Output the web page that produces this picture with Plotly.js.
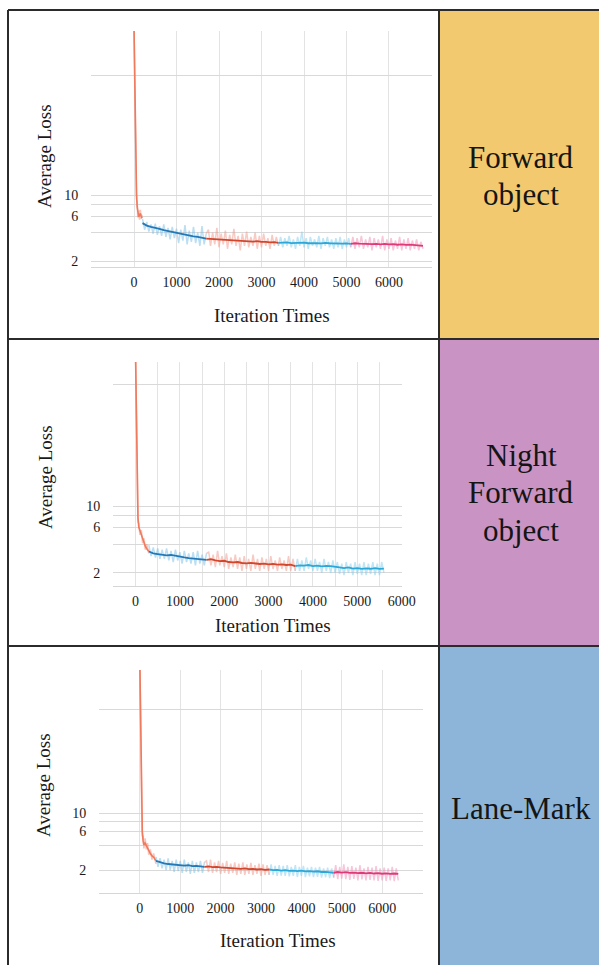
<!DOCTYPE html>
<html><head><meta charset="utf-8">
<script src="https://cdn.plot.ly/plotly-3.0.1.min.js"></script>
<style>html,body{margin:0;padding:0;background:#fff;overflow:hidden}#chart{width:599px;height:965px}</style>
</head><body><div id="chart"></div>
<script>
// ---------- Data: Forward object ----------
const FO_HEAD_X   = [0,10,20,30,45,60,75,90,110,130,150,170,190];
const FO_HEAD_Y   = [600,250,90,35,16,10,7.5,6.4,5.9,6.1,6.4,6.0,5.7];
const FO_HEAD_RAW = [600,230,110,30,19,9,8.4,5.8,6.9,5.5,7.0,5.6,6.2];
const FO_SMOOTH_START = 200;
const FO_SMOOTH = [5.05,4.75,4.6,4.45,4.38,4.25,4.15,4.08,3.98,3.9,3.84,3.72,3.66,3.6,3.5,3.46,3.44,3.38,3.4,3.33,3.36,3.3,3.31,3.27,3.29,3.24,3.22,3.25,3.19,3.2,3.15,3.17,3.12,3.13,3.15,3.1,3.13,3.11,3.14,3.09,3.12,3.1,3.08,3.12,3.09,3.07,3.1,3.06,3.08,3.05,3.09,3.06,3.04,3.07,3.03,3.05,3.01,3.04,3.0,3.02,2.98,3.01,2.97,2.99,2.95,2.96,2.9];
const FO_RAW_START = 200;
const FO_RAW = [
 5.6,4.3,5.2,4.1,4.9,3.9,5.0,3.8,4.7,3.7,4.9,3.6,4.5,3.4,4.6,3.5,4.4,3.1,4.3,3.3,4.8,3.0,4.2,3.2,4.6,3.1,4.0,2.9,4.7,3.0,3.9,
 4.3,2.9,4.0,3.0,4.5,2.8,3.9,3.0,4.2,2.7,3.8,3.0,4.4,2.9,3.7,2.6,3.9,2.9,4.1,2.8,3.6,2.9,4.0,2.7,3.7,2.8,3.9,2.9,3.5,2.7,3.8,2.9,3.6,2.9,
 3.6,2.8,3.5,2.9,3.7,2.8,3.4,2.7,3.6,2.9,4.1,2.8,3.5,2.7,3.6,2.9,3.4,2.8,3.7,2.7,3.5,2.9,3.6,2.8,3.4,2.7,3.5,2.8,3.6,2.7,3.4,2.8,3.5,2.8,
 3.6,2.7,3.5,2.8,3.7,2.7,3.4,2.8,3.6,2.6,3.5,2.8,3.4,2.7,3.7,2.6,3.4,2.7,3.5,2.6,3.3,2.7,3.6,2.6,3.4,2.7,3.5,2.6,3.3,2.7,3.4,2.6,3.2,2.7];
const FO_BOUNDS = [200,1700,3400,5100,6800];
const FO_COLORS = ['blue','red','cyan','pink'];

// ---------- Data: Night Forward object ----------
const NFO_HEAD_X   = [0,10,20,30,40,55,75,100,130,160,190,220,250,300];
const NFO_HEAD_Y   = [400,170,55,20,11,7.5,6.0,5.5,5.0,4.5,4.1,3.8,3.6,3.35];
const NFO_HEAD_RAW = [400,150,70,18,13,6.8,6.6,5.0,5.6,4.1,4.6,3.5,4.0,3.2];
const NFO_SMOOTH_START = 300;
const NFO_SMOOTH = [3.35,3.2,3.15,3.12,3.05,3.08,3.0,2.96,2.9,2.86,2.82,2.8,2.76,2.74,2.78,2.7,2.66,2.68,2.6,2.58,2.6,2.54,2.52,2.55,2.5,2.48,2.5,2.46,2.48,2.44,2.46,2.42,2.44,2.36,2.4,2.38,2.42,2.36,2.38,2.34,2.37,2.35,2.3,2.28,2.25,2.28,2.22,2.24,2.2,2.23,2.21,2.24,2.2,2.22];
const NFO_RAW_START = 300;
const NFO_RAW = [
 3.9,3.0,3.7,2.9,3.6,2.8,3.5,2.8,3.6,2.7,3.4,2.6,3.5,2.7,3.3,2.5,3.4,2.6,3.2,2.5,3.3,2.4,3.4,2.5,3.1,2.4,3.2,
 3.3,2.4,3.1,2.3,3.4,2.4,3.0,2.3,3.2,2.2,2.9,2.3,3.1,2.2,2.9,2.1,3.0,2.2,2.8,2.1,3.1,2.2,2.8,2.1,2.9,2.2,2.8,2.1,3.0,2.2,2.7,2.1,2.9,2.2,2.7,2.1,3.0,2.1,2.8,2.1,
 2.8,2.1,2.7,2.1,2.9,2.2,2.7,2.1,2.8,2.1,2.6,2.0,2.8,2.1,2.6,2.0,2.7,2.0,2.6,1.95,2.5,1.9,2.6,2.0,2.5,1.9,2.6,1.95,2.5,1.9,2.6,1.9,2.5,1.95,2.6,1.9,2.5,1.9,2.6,2.0];
const NFO_BOUNDS = [300,1600,3600,5600];
const NFO_COLORS = ['blue','red','cyan'];

// ---------- Data: Lane-Mark ----------
const LM_HEAD_X   = [0,10,20,30,45,60,80,100,130,160,190,220,260,300,340,400];
const LM_HEAD_Y   = [700,250,70,22,10,6,4.6,4.1,4.3,4.0,3.8,3.5,3.2,3.0,2.9,2.6];
const LM_HEAD_RAW = [700,220,90,19,12,5.2,5.3,3.7,4.9,3.6,4.3,3.1,3.6,2.7,3.2,2.4];
const LM_SMOOTH_START = 400;
const LM_SMOOTH = [2.6,2.48,2.42,2.38,2.35,2.32,2.3,2.28,2.3,2.24,2.26,2.22,2.2,2.22,2.18,2.2,2.16,2.14,2.16,2.1,2.12,2.08,2.1,2.06,2.08,2.04,2.06,2.02,2.04,2.0,2.02,1.98,2.0,1.96,1.98,1.95,1.97,1.93,1.95,1.92,1.94,1.9,1.91,1.88,1.86,1.9,1.87,1.89,1.85,1.87,1.84,1.86,1.83,1.85,1.82,1.84,1.81,1.83,1.8,1.82,1.8];
const LM_RAW_START = 400;
const LM_RAW = [
 2.9,2.2,2.8,2.1,2.7,2.0,2.8,2.0,2.6,1.9,2.7,1.95,2.6,1.85,2.7,1.9,2.5,1.8,2.6,1.85,2.5,1.9,2.6,1.85,2.5,
 2.6,1.9,2.7,1.85,2.5,1.9,2.6,1.8,2.45,1.85,2.6,1.8,2.4,1.85,2.5,1.75,2.4,1.8,2.5,1.75,2.35,1.8,2.45,1.75,2.3,1.8,2.4,1.7,2.35,1.75,2.3,1.75,
 2.35,1.75,2.25,1.7,2.3,1.72,2.25,1.7,2.3,1.68,2.2,1.7,2.3,1.65,2.2,1.7,2.25,1.65,2.15,1.68,2.2,1.64,2.15,1.66,2.2,1.62,2.1,1.64,2.15,1.6,2.1,1.62,
 2.3,1.55,2.2,1.58,2.35,1.55,2.2,1.52,2.25,1.56,2.15,1.5,2.3,1.54,2.1,1.5,2.2,1.52,2.15,1.5,2.25,1.48,2.1,1.5,2.15,1.48,2.1,1.5,2.2,1.47,2.1,1.5];
const LM_BOUNDS = [400,1600,3200,4800,6400];
const LM_COLORS = ['blue','red','cyan','pink'];

// ---------- Ticks ----------
const X_TICKS_7K  = [-1000,0,1000,2000,3000,4000,5000,6000,7000];
const X_LABELS_7K = ['','0','1000','2000','3000','4000','5000','6000',''];
const X_TICKS_6K  = [-500,0,500,1000,1500,2000,2500,3000,3500,4000,4500,5000,5500,6000];
const X_LABELS_6K = ['','0','','1000','','2000','','3000','','4000','','5000','','6000'];
const Y_TICKS  = [2,4,6,8,10,185];
const Y_LABELS = ['2','','6','','10',''];
const ROW_LABELS = [['Forward','object'],['Night','Forward','object'],['Lane-Mark']];

// ---------- Styling ----------
const PAL = {
  orange:{line:'#F07A5E', raw:'rgba(244,140,118,0.5)'},
  blue:  {line:'#2378B5', raw:'rgba(120,190,232,0.5)'},
  red:   {line:'#D2462C', raw:'rgba(242,150,138,0.5)'},
  cyan:  {line:'#2BA8D8', raw:'rgba(130,206,238,0.5)'},
  pink:  {line:'#DF3A78', raw:'rgba(242,140,182,0.5)'}
};
const W=599,H=965;
const px=x=>x/W, py=y=>1-y/H;
const SERIF='"Liberation Serif","Times New Roman",serif';

const charts=[
 {hx:FO_HEAD_X,hy:FO_HEAD_Y,hr:FO_HEAD_RAW,ss:FO_SMOOTH_START,sm:FO_SMOOTH,rs:FO_RAW_START,raw:FO_RAW,b:FO_BOUNDS,c:FO_COLORS,
  box:[91,31,432,267],xr:[-1012,7012],yr:[1.73,550],xt:X_TICKS_7K,xl:X_LABELS_7K,ytitle:[45,156],xtitle:[272,315]},
 {hx:NFO_HEAD_X,hy:NFO_HEAD_Y,hr:NFO_HEAD_RAW,ss:NFO_SMOOTH_START,sm:NFO_SMOOTH,rs:NFO_RAW_START,raw:NFO_RAW,b:NFO_BOUNDS,c:NFO_COLORS,
  box:[113,362,402,586],xr:[-508,6008],yr:[1.46,320],xt:X_TICKS_6K,xl:X_LABELS_6K,ytitle:[45,477],xtitle:[273,625]},
 {hx:LM_HEAD_X,hy:LM_HEAD_Y,hr:LM_HEAD_RAW,ss:LM_SMOOTH_START,sm:LM_SMOOTH,rs:LM_RAW_START,raw:LM_RAW,b:LM_BOUNDS,c:LM_COLORS,
  box:[99,670,423,893],xr:[-1012,7012],yr:[1.05,570],xt:X_TICKS_7K,xl:X_LABELS_7K,ytitle:[43,785],xtitle:[278,940]}
];

function slice(start,step,vals,lo,hi){
  const xs=[],ys=[];
  vals.forEach((v,i)=>{const x=start+i*step; if(x>=lo&&x<=hi){xs.push(x);ys.push(v);}});
  return {xs,ys};
}

const data=[]; const layout={width:W,height:H,margin:{l:0,r:0,t:0,b:0},showlegend:false,
  paper_bgcolor:'#fff',plot_bgcolor:'rgba(0,0,0,0)',shapes:[],annotations:[]};

charts.forEach((ch,k)=>{
  const xa='x'+(k?k+1:''), ya='y'+(k?k+1:'');
  data.push({x:ch.hx,y:ch.hr,xaxis:xa,yaxis:ya,mode:'lines',line:{color:PAL.orange.raw,width:1.6},hoverinfo:'skip'});
  data.push({x:ch.hx,y:ch.hy,xaxis:xa,yaxis:ya,mode:'lines',line:{color:PAL.orange.line,width:1.6},hoverinfo:'skip'});
  for(let s=0;s<ch.c.length;s++){
    const lo=ch.b[s],hi=ch.b[s+1],col=PAL[ch.c[s]];
    const r=slice(ch.rs,50,ch.raw,lo,hi);
    data.push({x:r.xs,y:r.ys,xaxis:xa,yaxis:ya,mode:'lines',line:{color:col.raw,width:1.5},hoverinfo:'skip'});
  }
  for(let s=0;s<ch.c.length;s++){
    const lo=ch.b[s],hi=ch.b[s+1],col=PAL[ch.c[s]];
    const m=slice(ch.ss,100,ch.sm,lo,hi);
    data.push({x:m.xs,y:m.ys,xaxis:xa,yaxis:ya,mode:'lines',line:{color:col.line,width:1.8},hoverinfo:'skip'});
  }
  const [l,t,r,b]=ch.box;
  layout['xaxis'+(k?k+1:'')]={domain:[px(l),px(r)],anchor:ya,range:ch.xr,tickmode:'array',tickvals:ch.xt,ticktext:ch.xl,
    showgrid:true,gridcolor:'#e3e3e3',gridwidth:1,zeroline:false,showline:true,linecolor:'#d6d6d6',linewidth:1,
    ticks:'outside',ticklen:2,tickcolor:'rgba(0,0,0,0)',tickfont:{family:SERIF,size:14,color:'#1a1a1a'},fixedrange:true};
  layout['yaxis'+(k?k+1:'')]={domain:[py(b),py(t)],anchor:xa,type:'log',range:[Math.log10(ch.yr[0]),Math.log10(ch.yr[1])],
    tickmode:'array',tickvals:Y_TICKS,ticktext:Y_LABELS,showgrid:true,gridcolor:'#d9d9d9',gridwidth:1,zeroline:false,showline:false,
    ticks:'outside',ticklen:9,tickcolor:'rgba(0,0,0,0)',tickfont:{family:SERIF,size:14,color:'#1a1a1a'},fixedrange:true};
  layout.annotations.push({xref:'paper',yref:'paper',x:px(ch.ytitle[0]),y:py(ch.ytitle[1]),text:'Average Loss',textangle:-90,
    showarrow:false,xanchor:'center',yanchor:'middle',font:{family:SERIF,size:19,color:'#1a1a1a'}});
  layout.annotations.push({xref:'paper',yref:'paper',x:px(ch.xtitle[0]),y:py(ch.xtitle[1]),text:'Iteration Times',
    showarrow:false,xanchor:'center',yanchor:'middle',font:{family:SERIF,size:19,color:'#1a1a1a'}});
});

const cells=[[11,338,'#F2C96F'],[340,645,'#C994C3'],[647,965,'#8DB5D9']];
cells.forEach(c=>layout.shapes.push({type:'rect',xref:'paper',yref:'paper',x0:px(440),x1:px(599),y0:py(c[1]),y1:py(c[0]),
  fillcolor:c[2],line:{width:0},layer:'below'}));
const LC='#2b2b2b';
const lines=[[8,10,599,10],[8,10,8,965],[439,10,439,965],[8,339,599,339],[8,646,599,646]];
lines.forEach(L=>layout.shapes.push({type:'line',xref:'paper',yref:'paper',x0:px(L[0]),y0:py(L[1]),x1:px(L[2]),y1:py(L[3]),
  line:{color:LC,width:2}}));
const labelY=[[157,194],[456,493,530],[808]];
ROW_LABELS.forEach((rows,i)=>rows.forEach((txt,j)=>layout.annotations.push({xref:'paper',yref:'paper',x:px(521),y:py(labelY[i][j]),
  text:txt,showarrow:false,xanchor:'center',yanchor:'middle',font:{family:SERIF,size:31,color:'#151515'}})));

Plotly.newPlot('chart',data,layout,{staticPlot:true,displayModeBar:false});
</script></body></html>
